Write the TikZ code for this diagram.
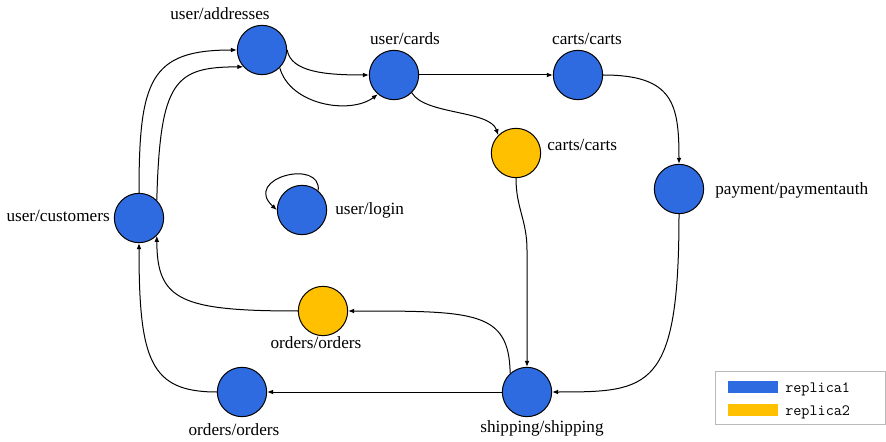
\documentclass[tikz,border=0pt]{standalone}
\usepackage{fontspec}
\setmainfont{Liberation Serif}
\usepackage{xcolor}
\usetikzlibrary{arrows.meta}
\definecolor{repA}{RGB}{47,107,224}
\definecolor{repB}{RGB}{255,192,0}

\begin{document}
\begin{tikzpicture}[x=0.75pt, y=-0.75pt,
    svc/.style={circle, draw=black, line width=0.75pt, minimum size=37pt, inner sep=0pt},
    lbl/.style={font=\fontsize{12.9}{15}\selectfont, inner sep=0pt},
    link/.style={line width=0.75pt, -{Latex[length=4.5pt,width=3.6pt]}},
    key/.style={minimum width=37.5pt, minimum height=9pt, inner sep=0pt},
    keytext/.style={font=\ttfamily\fontsize{11.8}{13}\selectfont, anchor=base west, inner sep=0pt}]
    \useasboundingbox (0,0) rectangle (886,442);

    \node[svc, fill=repA] (addr) at (262,50) {};
    \node[svc, fill=repA] (cards) at (394,75) {};
    \node[svc, fill=repA] (cartsA) at (578,75) {};
    \node[svc, fill=repB] (cartsB) at (516,153) {};
    \node[svc, fill=repA] (pay) at (679,189) {};
    \node[svc, fill=repA] (cust) at (139,218) {};
    \node[svc, fill=repA] (login) at (302,210) {};
    \node[svc, fill=repB] (ordB) at (323,311) {};
    \node[svc, fill=repA] (ordA) at (242,392) {};
    \node[svc, fill=repA] (ship) at (527,392) {};

    \foreach \n/\p/\a/\t in {addr-l/{220,19.5}/base/user\slash addresses,
                             cards-l/{405,45}/base/user\slash cards,
                             cartsA-l/{587,45}/base/carts\slash carts,
                             cartsB-l/{547,151}/base west/carts\slash carts,
                             pay-l/{715,195}/base west/payment\slash paymentauth,
                             login-l/{335,215}/base west/user\slash login,
                             cust-l/{110,222}/base east/user\slash customers,
                             ordB-l/{316,349}/base/orders\slash orders,
                             ordA-l/{234,435}/base/orders\slash orders,
                             ship-l/{542,432}/base/shipping\slash shipping} {
        \node[lbl, anchor=\a] (\n) at (\p) {\t};
    }

    \draw[link] (addr.east) .. controls (291,72) and (325,75) .. (cards.west);
    \draw[link] (addr.-45) .. controls (290,105) and (350,115) .. (cards.-130);
    \draw[link] (cards) -- (cartsA);
    \draw[link] (cards.-45) .. controls (425,115) and (490,110) .. (cartsB.135);
    \draw[link] (cartsA.east) .. controls +(70,0) and +(0,-60) .. (pay.north);
    \draw[link] (pay.south) .. controls (679,390) and (650,392) .. (ship.east);
    \draw[link] (cartsB.south) .. controls +(0,30) and +(0,-30) .. (ship.north |- 0,250) -- (ship.north);
    \draw[link] (ship.132) .. controls (509,311) and (475,311) .. (ordB.east);
    \draw[link] (ship) -- (ordA);
    \draw[link] (ordA.west) .. controls (150,392) and (139,360) .. (cust.south);
    \draw[link] (ordB.west) .. controls (180,311) and (157,300) .. (cust.-45);
    \draw[link] (cust.north) .. controls (139,80) and (150,50) .. (addr.west);
    \draw[link] (cust.45) .. controls (160,80) and (175,67) .. (addr.222);
    \draw[link] (login.50) .. controls (322,158) and (242,178) .. (login.west);

    \node[draw=gray!55, line width=0.6pt, minimum width=127.5pt, minimum height=39.75pt, inner sep=0pt] (legend) at (800,397.5) {};
    \node[key, fill=repA] (key1) at (753,387) {};
    \node[key, fill=repB] (key2) at (753,409.5) {};
    \node[keytext] (key1-t) at (785,392.5) {replica1};
    \node[keytext] (key2-t) at (785,415) {replica2};
\end{tikzpicture}
\end{document}
